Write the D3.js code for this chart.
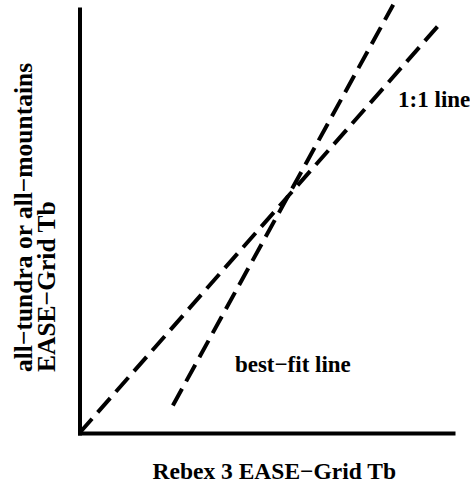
<!DOCTYPE html>
<html>
<head>
<meta charset="utf-8">
<script src="https://cdn.jsdelivr.net/npm/d3@7"></script>
<style>
  html, body { margin: 0; padding: 0; background: #fff; }
  svg { display: block; }
  text { font-family: "Liberation Serif", "Times New Roman", serif; font-weight: bold; fill: #000; }
</style>
</head>
<body>
<svg id="chart" width="470" height="485"></svg>
<script>
// Schematic comparison of brightness temperatures (arbitrary units)
const xDomain = [0, 100];
const yDomain = [0, 100];

// 1:1 reference line
const oneToOneX = [0, 97];
const oneToOneY = [0, 97];

// regression (best-fit) line
const bestFitX = [25, 84];
const bestFitY = [6.5, 101];

// annotation labels: text and anchor position in data units
const labelText = ["1:1 line", "best\u2212fit line"];
const labelX = [85.3, 41.6];
const labelY = [76.9, 14.4];

const xTitle = "Rebex 3 EASE\u2212Grid Tb";
const yTitleLines = ["all\u2212tundra or all\u2212mountains", "EASE\u2212Grid Tb"];

const svg = d3.select("#chart");

const x = d3.scaleLinear().domain(xDomain).range([79.5, 453]);
const y = d3.scaleLinear().domain(yDomain).range([433, 9]);

// axes: plain heavy lines, no ticks
const xAxis = svg.append("g")
  .attr("transform", `translate(0,${y(0)})`)
  .call(d3.axisBottom(x).tickValues([]).tickSizeOuter(0));
const yAxis = svg.append("g")
  .attr("transform", `translate(${x(0)},0)`)
  .call(d3.axisLeft(y).tickValues([]).tickSizeOuter(0));
[xAxis, yAxis].forEach(g => g.select(".domain")
  .attr("stroke", "#000").attr("stroke-width", 4).attr("stroke-linecap", "square"));

const line = d3.line().x(d => x(d[0])).y(d => y(d[1]));

const series = [
  d3.zip(oneToOneX, oneToOneY),
  d3.zip(bestFitX, bestFitY)
];

svg.append("g").selectAll("path")
  .data(series)
  .join("path")
  .attr("d", line)
  .attr("fill", "none")
  .attr("stroke", "#000")
  .attr("stroke-width", 4)
  .attr("stroke-dasharray", "19,8.5");

svg.append("g").selectAll("text")
  .data(labelText)
  .join("text")
  .attr("x", (d, i) => x(labelX[i]))
  .attr("y", (d, i) => y(labelY[i]))
  .attr("font-size", 23)
  .text(d => d);

svg.append("text")
  .attr("x", (x(0) + 453) / 2 + 8)
  .attr("y", 479)
  .attr("text-anchor", "middle")
  .attr("font-size", 23.5)
  .text(xTitle);

const yt = svg.append("text")
  .attr("transform", "translate(32,372) rotate(-90)")
  .attr("font-size", 25.5);
yt.selectAll("tspan")
  .data(yTitleLines)
  .join("tspan")
  .attr("x", 0)
  .attr("dy", (d, i) => i === 0 ? 0 : 23)
  .text(d => d);
</script>
</body>
</html>
